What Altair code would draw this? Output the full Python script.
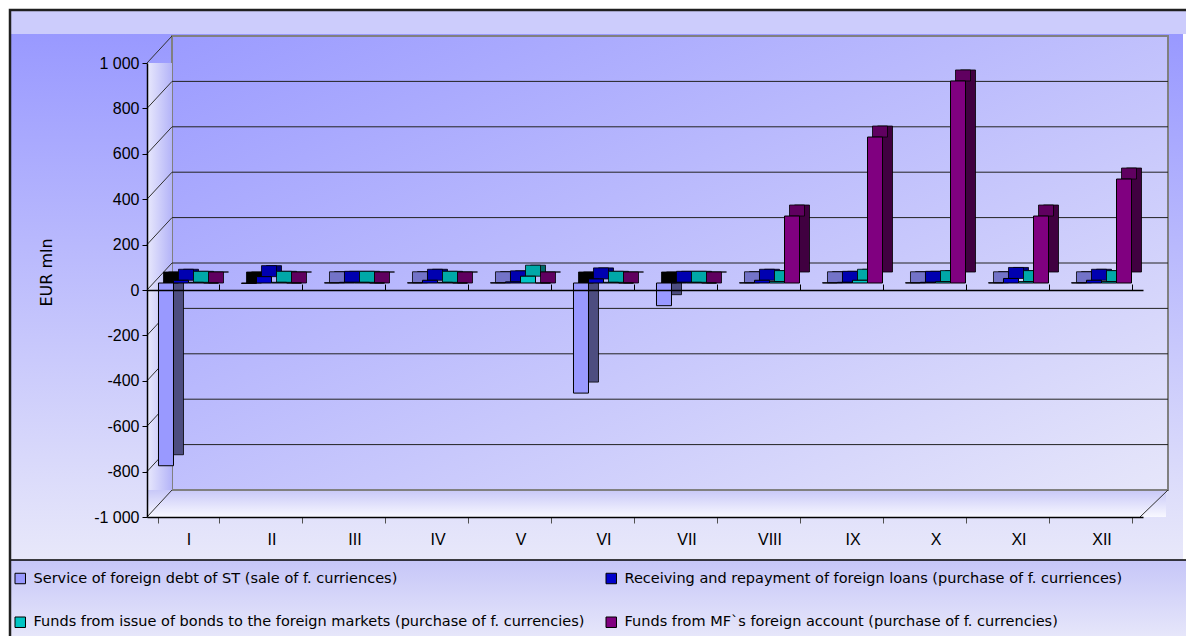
import altair as alt
import pandas as pd

months = ["I", "II", "III", "IV", "V", "VI", "VII", "VIII", "IX", "X", "XI", "XII"]
series = [
    "Service of foreign debt of ST (sale of f. curriences)",
    "Receiving and repayment of foreign loans (purchase of f. curriences)",
    "Funds from issue of bonds to the foreign markets (purchase of f. currencies)",
    "Funds from MF`s foreign account (purchase of f. currencies)",
]
service = [-805, -2, 1, 1, 1, -485, -100, 1, 1, 1, 1, 1]
loans = [12, 28, 3, 12, 5, 18, 3, 12, 3, 3, 20, 12]
bonds = [3, 3, 3, 3, 30, 3, 3, 6, 12, 6, 6, 6]
mf = [0, 0, 0, 0, 0, 0, 0, 295, 643, 890, 295, 458]
y_ticks = [-1000, -800, -600, -400, -200, 0, 200, 400, 600, 800, 1000]
grid_vals = [-800, -600, -400, -200, 0, 200, 400, 600, 800]

front_colors = ["#9999ff", "#0000cc", "#00c4c4", "#800080"]
top_colors = ["#7373c8", "#0000b0", "#00a8a8", "#600060"]
side_colors = ["#4d4d80", "#000080", "#006a6a", "#400040"]

# legend is laid out column-major: order so that rows read s1,s2 / s3,s4
legend_order = [series[0], series[2], series[1], series[3]]
legend_colors = [front_colors[0], front_colors[2], front_colors[1], front_colors[3]]

rows = []
for s, vals in zip(series, [service, loans, bonds, mf]):
    for m, v in zip(months, vals):
        rows.append({"month": m, "series": s, "value": v})
df = pd.DataFrame(rows)
one = pd.DataFrame({"k": [0]})
gdf = pd.DataFrame({"v": grid_vals})
tdf = pd.DataFrame({"v": y_ticks})

FONT = "Liberation Sans, Arial, sans-serif"
LFONT = "DejaVu Sans, Liberation Sans, sans-serif"
W, H = 996, 454
DX, DY = 10, -11
BASE = -7
DEPTH_X, DEPTH_Y = 25, -27

yscale = alt.Scale(domain=[-1000, 1000], nice=False, zero=False)
yax = alt.Axis(values=y_ticks, grid=False, zindex=1,
               labelExpr="datum.value == 1000 ? '1 000' : datum.value == -1000 ? '-1 000' : '' + datum.value",
               domainColor="black", domainWidth=1.5, tickColor="black", tickSize=5,
               labelFontSize=16, labelFont=FONT, labelColor="black", labelPadding=3,
               title="EUR mln", titleFont=LFONT, titleFontSize=16, titleFontWeight="normal",
               titleColor="black", titleX=-101, titleY=209, titleAngle=270,
               titleAlign="center", titleBaseline="middle")


def xs(shift=0):
    return alt.Scale(domain=months, range=[shift, W + shift],
                     paddingInner=0.277, paddingOuter=0.1385)


off = alt.XOffset("series:N", scale=alt.Scale(domain=series), sort=series)


def vgrad(c1, c2):
    return {"gradient": "linear", "x1": 0, "y1": 0, "x2": 0, "y2": 1,
            "stops": [{"offset": 0, "color": c1}, {"offset": 1, "color": c2}]}


def dgrad(c1, c2):
    return {"gradient": "linear", "x1": 0, "y1": 0, "x2": 1, "y2": 1,
            "stops": [{"offset": 0, "color": c1}, {"offset": 1, "color": c2}]}


def hgrad(c1, c2):
    return {"gradient": "linear", "x1": 0, "y1": 0, "x2": 1, "y2": 0,
            "stops": [{"offset": 0, "color": c1}, {"offset": 1, "color": c2}]}


def box(x1, x2, y1, y2, **kw):
    return alt.Chart(one).mark_rect(**kw).encode(
        x=alt.value(x1), x2=alt.value(x2), y=alt.value(y1), y2=alt.value(y2))


L, R, T, B = -137, 1036, -53, 573
top_strip = box(L, R + 3, T, -29, fill="#ccccfc")
plot_bg = box(L, R, -29, 497, fill=vgrad("#9999ff", "#e8e8fa"))
legend_bg = box(L, R + 3, 497, B, fill=vgrad("#c6c6f8", "#e6e6fa"))
legend_line = alt.Chart(one).mark_rule(color="black", strokeWidth=1.5).encode(
    x=alt.value(L), x2=alt.value(R + 3), y=alt.value(497))
border = box(L, R + 8, T, B + 5, fill=None, stroke="#202020", strokeWidth=2.5)

wall = alt.Chart(one).mark_rect(fill=dgrad("#9b9bff", "#e6e6fa"), stroke="#808080",
                                 strokeWidth=2, yOffset=DEPTH_Y, y2Offset=DEPTH_Y).encode(
    x=alt.value(DEPTH_X), x2=alt.value(W + DEPTH_X),
    y=alt.Y(datum=1000, scale=yscale, axis=yax), y2=alt.Y2(datum=-1000))
left_wall = alt.Chart(one).mark_rect(fill=hgrad("#e8e8fc", "#b4b4f8"), y2Offset=DEPTH_Y).encode(
    x=alt.value(0), x2=alt.value(DEPTH_X),
    y=alt.Y(datum=1000, scale=yscale, axis=yax), y2=alt.Y2(datum=-1000))
floor = alt.Chart(one).mark_rect(fill=vgrad("#c8c8f8", "#f8f8ff"), yOffset=DEPTH_Y).encode(
    x=alt.value(1), x2=alt.value(W + DEPTH_X - 2),
    y=alt.Y(datum=-1000, scale=yscale, axis=yax), y2=alt.Y2(datum=-1000))
floor_edge = alt.Chart(one).mark_rule(color="#808080", strokeWidth=2, yOffset=DEPTH_Y).encode(
    x=alt.value(DEPTH_X), x2=alt.value(W + DEPTH_X),
    y=alt.Y(datum=-1000, scale=yscale, axis=yax))

grid = alt.Chart(gdf).mark_rule(color="#222222", strokeWidth=1, yOffset=DEPTH_Y).encode(
    x=alt.value(DEPTH_X), x2=alt.value(W + DEPTH_X),
    y=alt.Y("v:Q", scale=yscale, axis=yax))
diag = alt.Chart(tdf).mark_rule(color="#303030", strokeWidth=1, y2Offset=DEPTH_Y).encode(
    x=alt.value(0), x2=alt.value(DEPTH_X),
    y=alt.Y("v:Q", scale=yscale, axis=yax), y2=alt.Y2("v"))
diag_r = alt.Chart(one).mark_rule(color="#303030", strokeWidth=1, y2Offset=DEPTH_Y).encode(
    x=alt.value(W - 3), x2=alt.value(W + DEPTH_X),
    y=alt.Y(datum=-1000, scale=yscale, axis=yax), y2=alt.Y2(datum=-1000))

side = alt.Chart(df).mark_bar(stroke="black", strokeWidth=0.8,
                              yOffset=BASE + DY, y2Offset=BASE + DY).encode(
    x=alt.X("month:N", scale=xs(DX), sort=months, axis=None),
    xOffset=off,
    y=alt.Y("value:Q", scale=yscale, axis=yax),
    y2=alt.Y2(datum=0),
    color=alt.Color("series:N", scale=alt.Scale(domain=series, range=side_colors), legend=None),
)
topf = alt.Chart(df).transform_calculate(top="max(datum.value, 0)").mark_bar(
    stroke="black", strokeWidth=0.8, yOffset=BASE + DY, y2Offset=BASE).encode(
    x=alt.X("month:N", scale=xs(DX / 2), sort=months, axis=None),
    xOffset=off,
    y=alt.Y("top:Q", scale=yscale, axis=yax),
    y2=alt.Y2("top"),
    color=alt.condition("datum.value < 0", alt.value("black"),
                        alt.Color("series:N", scale=alt.Scale(domain=series, range=top_colors), legend=None)),
)
front = alt.Chart(df).mark_bar(stroke="black", strokeWidth=1, yOffset=BASE, y2Offset=BASE).encode(
    x=alt.X("month:N", scale=xs(0), sort=months,
            axis=alt.Axis(title=None, labelAngle=0, labelFontSize=16, labelFont=FONT,
                          labelColor="black", labelPadding=8, tickBand="extent", tickSize=6,
                          tickColor="#505050", domainColor="black", domainWidth=1.5,
                          grid=False, zindex=1)),
    xOffset=off,
    y=alt.Y("value:Q", scale=yscale, axis=yax),
    y2=alt.Y2(datum=0),
    color=alt.Color("series:N", scale=alt.Scale(domain=legend_order, range=legend_colors),
                    legend=alt.Legend(title=None, orient="none", legendX=-134, legendY=508,
                                      columns=2, columnPadding=19, rowPadding=28,
                                      symbolType="square", symbolSize=110,
                                      symbolStrokeColor="black", symbolStrokeWidth=1,
                                      labelFontSize=14.5, labelFont=LFONT, labelColor="black",
                                      labelLimit=800, labelOffset=6, zindex=1)),
)
zero_axis = alt.Chart(df).mark_point(opacity=0).encode(
    x=alt.X("month:N", scale=xs(0), sort=months,
            axis=alt.Axis(offset=-227, labels=False, title=None, tickBand="extent", tickSize=6,
                          domainColor="black", domainWidth=1.5, tickColor="black",
                          grid=False, zindex=1)),
    y=alt.Y("value:Q", scale=yscale, axis=yax),
)

chart = alt.layer(
    top_strip, plot_bg, legend_bg, legend_line, wall, left_wall, floor, floor_edge,
    grid, diag, diag_r, side, topf, front, zero_axis, border
).resolve_scale(x="independent", color="independent").properties(
    width=W, height=H,
    autosize=alt.AutoSizeParams(type="none"),
    padding={"left": 147, "top": 63, "right": 43, "bottom": 119},
    background="white",
).configure_view(stroke=None).configure_axisY(
    titleFontSize=16, titleFont=LFONT, titleFontWeight="normal", titleColor="black"
)

chart.save("out.html", embed_options={"renderer": "svg", "actions": False})
